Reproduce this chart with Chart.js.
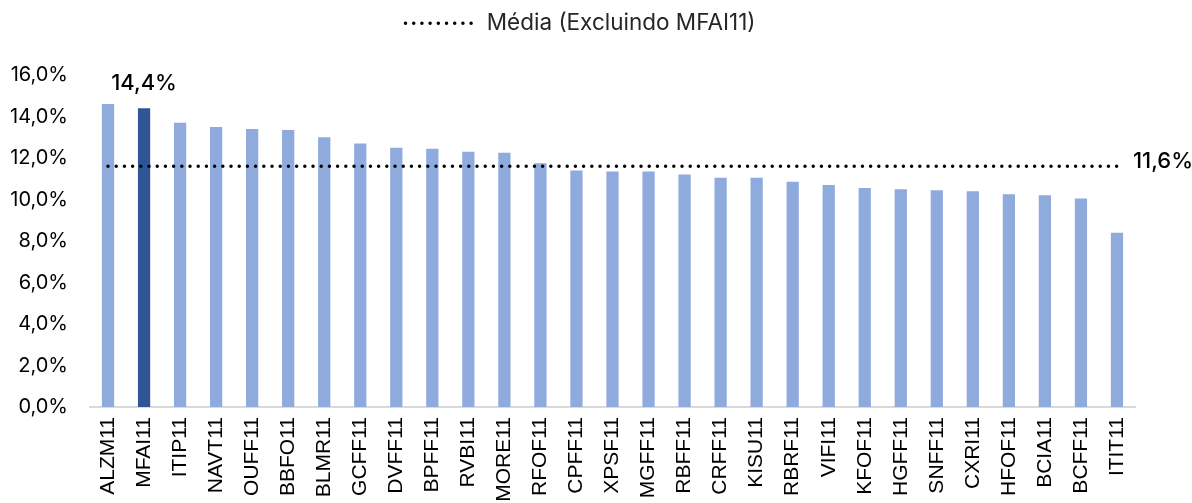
<!DOCTYPE html>
<html>
<head>
<meta charset="utf-8">
<script src="https://cdn.jsdelivr.net/npm/chart.js@4"></script>
<style>
  body { margin: 0; background: #fff; overflow: hidden; }
</style>
</head>
<body>
<canvas id="grafico" width="1192" height="503"></canvas>
<script>
// fundos (eixo x)
var fundos = ['ALZM11', 'MFAI11', 'ITIP11', 'NAVT11', 'OUFF11', 'BBFO11', 'BLMR11', 'GCFF11',
  'DVFF11', 'BPFF11', 'RVBI11', 'MORE11', 'RFOF11', 'CPFF11', 'XPSF11', 'MGFF11', 'RBFF11',
  'CRFF11', 'KISU11', 'RBRF11', 'VIFI11', 'KFOF11', 'HGFF11', 'SNFF11', 'CXRI11', 'HFOF11',
  'BCIA11', 'BCFF11', 'ITIT11'];
// dividend yield em %
var valores = [14.6, 14.4, 13.7, 13.5, 13.4, 13.35, 13.0, 12.7, 12.5, 12.45, 12.3, 12.25, 11.75,
  11.4, 11.35, 11.35, 11.2, 11.05, 11.05, 10.85, 10.7, 10.55, 10.5, 10.45, 10.4, 10.25,
  10.2, 10.05, 8.4];
var media = 11.6; // media excluindo MFAI11
var destaque = 'MFAI11';
var ticksY = [0, 2, 4, 6, 8, 10, 12, 14, 16];

var corClara = '#8faadc';
var corEscura = '#2f5597';
var pontilhado = [0, 8.2];

function pct(v) {
  return v.toFixed(1).replace('.', ',') + '%';
}

var coresBarras = fundos.map(function (f) { return f === destaque ? corEscura : corClara; });
var linhaMedia = fundos.map(function () { return media; });

// legenda: altura fixa e deslocada um pouco pra direita
var ajusteLegenda = {
  id: 'ajusteLegenda',
  beforeInit: function (chart) {
    var fitOriginal = chart.legend.fit;
    chart.legend.fit = function () {
      fitOriginal.call(this);
      this.height = 75;
    };
  },
  afterLayout: function (chart) {
    chart.legend.left += 13;
    chart.legend.right += 13;
  }
};

// rotulos: 14,4% sobre o MFAI11 e 11,6% no fim da linha
var rotulos = {
  id: 'rotulos',
  afterDatasetsDraw: function (chart) {
    var ctx = chart.ctx;
    var x = chart.scales.x, y = chart.scales.y;
    var i = fundos.indexOf(destaque);
    ctx.save();
    ctx.fillStyle = '#000';
    ctx.font = '500 22px Inter';
    ctx.textAlign = 'center';
    ctx.textBaseline = 'middle';
    ctx.fillText(pct(valores[i]), x.getPixelForValue(i), y.getPixelForValue(valores[i]) - 25);
    ctx.textAlign = 'left';
    ctx.fillText(pct(media), x.getPixelForValue(fundos.length - 1) + 16, y.getPixelForValue(media) - 5);
    ctx.restore();
  }
};

var ctx = document.getElementById('grafico').getContext('2d');
var myChart = new Chart(ctx, {
  type: 'bar',
  data: {
    labels: fundos,
    datasets: [{
      label: 'Dividend Yield',
      data: valores,
      backgroundColor: coresBarras,
      barPercentage: 0.34,
      categoryPercentage: 1,
      order: 1
    }, {
      type: 'line',
      label: 'Média (Excluindo MFAI11)',
      data: linhaMedia,
      borderColor: '#000',
      borderWidth: 3.5,
      borderDash: pontilhado,
      borderCapStyle: 'round',
      pointRadius: 0,
      fill: false,
      order: 0
    }]
  },
  options: {
    responsive: false,
    animation: false,
    devicePixelRatio: 1,
    layout: { padding: { left: 0, right: 57, top: 0 } },
    plugins: {
      tooltip: { enabled: false },
      legend: {
        position: 'top',
        labels: {
          usePointStyle: true,
          pointStyle: 'line',
          pointStyleWidth: 70,
          color: '#262626',
          padding: 12,
          font: { family: 'Inter', size: 22.5 },
          generateLabels: function (chart) {
            var itens = Chart.defaults.plugins.legend.labels.generateLabels(chart);
            return itens.filter(function (it) { return it.datasetIndex === 1; }).map(function (it) {
              it.lineDash = pontilhado;
              it.lineCap = 'round';
              it.lineWidth = 3.5;
              it.strokeStyle = '#000';
              return it;
            });
          }
        }
      }
    },
    scales: {
      x: {
        grid: { display: false, drawTicks: false },
        border: { color: '#d9d9d9', width: 2 },
        ticks: {
          autoSkip: false,
          minRotation: 90,
          maxRotation: 90,
          padding: 10,
          color: '#000',
          font: { family: 'Liberation Sans', size: 21 }
        },
        afterFit: function (s) { s.height = 96; }
      },
      y: {
        min: 0,
        max: 16,
        grid: { display: false, drawTicks: false },
        border: { display: false },
        afterBuildTicks: function (s) {
          s.ticks = ticksY.map(function (v) { return { value: v }; });
        },
        ticks: {
          padding: 22,
          color: '#000',
          font: { family: 'Inter', size: 20 },
          callback: function (v) { return pct(v); }
        },
        afterFit: function (s) { s.width = 90; }
      }
    }
  },
  plugins: [ajusteLegenda, rotulos]
});
</script>
</body>
</html>
